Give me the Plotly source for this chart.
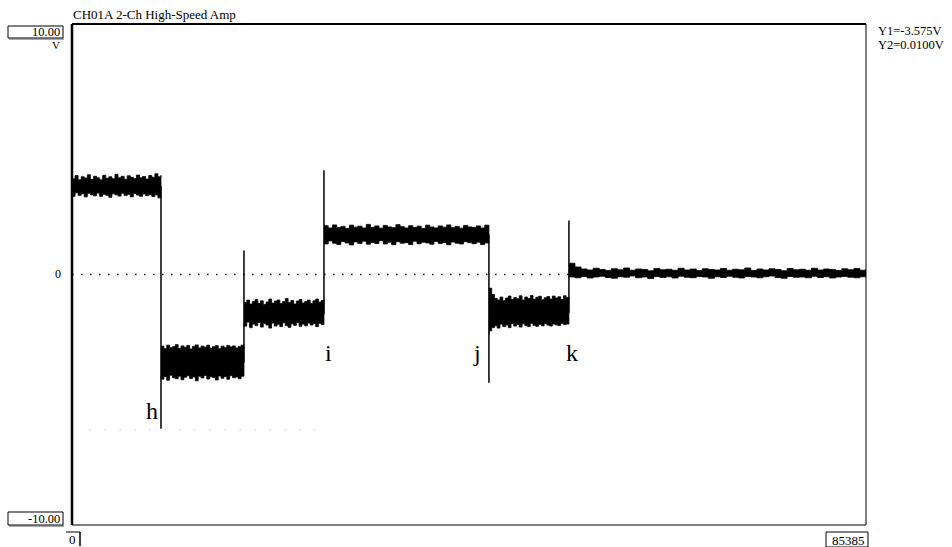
import numpy as np
import plotly.graph_objects as go

# ---- data ----
x_max = 85385
seg_start = [0, 9570, 18494, 27096, 44837, 53439]
seg_end = [9570, 18494, 27096, 44837, 53439, 85385]
seg_level = [3.50, -3.48, -1.56, 1.56, -1.50, 0.04]
# transient spike extremes at each transition
spike_x = [9570, 18494, 27096, 44837, 53439]
spike_y = [-6.16, 0.96, 4.16, -4.32, 2.16]

upper = [
    [3.82, 3.95, 3.78, 3.90, 3.85, 3.98, 3.80, 3.92, 3.86, 3.78, 3.96, 3.84, 3.90, 3.82, 4.00,
     3.86, 3.92, 3.80, 3.94, 3.88, 3.83, 3.97, 3.86, 3.91, 3.81, 3.95, 3.88, 4.02, 3.90, 3.96],
    [-2.86, -2.96, -2.82, -2.92, -2.88, -2.80, -2.95, -2.85, -2.90, -2.83, -2.97, -2.87, -2.81, -2.93, -2.86,
     -2.90, -2.82, -2.94, -2.88, -2.84, -2.96, -2.86, -2.91, -2.83, -2.89, -2.85, -2.93, -2.87, -2.82, -2.90],
    [-1.12, -1.02, -1.18, -1.08, -1.00, -1.15, -1.05, -1.20, -1.10, -0.98, -1.14, -1.06, -1.02, -1.16, -1.08,
     -0.96, -1.12, -1.04, -1.18, -1.06, -1.00, -1.14, -1.08, -1.02, -1.16, -1.05, -0.98, -1.10, -1.04, -1.02],
    [1.95, 1.86, 1.98, 1.88, 1.92, 1.84, 1.97, 1.89, 1.93, 1.86, 2.00, 1.88, 1.94, 1.85, 1.96, 1.90, 1.87, 1.99, 1.91, 1.86,
     1.95, 1.88, 1.93, 1.84, 1.97, 1.90, 1.86, 1.94, 1.89, 1.98, 1.87, 1.92, 1.85, 1.96, 1.90, 1.88, 1.94, 1.86, 1.97, 1.91],
    [-0.55, -0.80, -0.95, -1.02, -0.90, -1.05, -0.94, -0.86, -1.00, -0.92, -0.97, -0.85, -1.02, -0.90, -0.96,
     -0.84, -0.99, -0.91, -0.87, -1.01, -0.93, -0.88, -0.98, -0.86, -0.94, -0.89, -1.00, -0.85, -0.92, -0.88],
    [0.45, 0.30, 0.22, 0.18, 0.25, 0.20, 0.16, 0.23, 0.19, 0.26, 0.17, 0.22, 0.20, 0.15, 0.24, 0.19, 0.21, 0.17, 0.25, 0.18,
     0.22, 0.16, 0.23, 0.20, 0.18, 0.24, 0.17, 0.21, 0.19, 0.26, 0.16, 0.22, 0.18, 0.23, 0.20, 0.15, 0.24, 0.19, 0.21, 0.17,
     0.25, 0.18, 0.22, 0.20, 0.16, 0.23, 0.19, 0.24, 0.17, 0.21],
]
lower = [
    [3.20, 3.12, 3.26, 3.16, 3.22, 3.10, 3.24, 3.18, 3.14, 3.25, 3.12, 3.20, 3.16, 3.08, 3.22,
     3.18, 3.13, 3.24, 3.15, 3.20, 3.10, 3.23, 3.17, 3.12, 3.21, 3.15, 3.19, 3.11, 3.18, 3.06],
    [-4.05, -4.18, -4.08, -4.22, -4.02, -4.12, -4.16, -4.06, -4.20, -4.10, -4.04, -4.15, -4.09, -4.24, -4.06,
     -4.13, -4.03, -4.17, -4.08, -4.11, -4.21, -4.05, -4.14, -4.07, -4.18, -4.04, -4.12, -4.09, -4.16, -4.06],
    [-1.95, -2.06, -1.90, -2.12, -1.98, -2.04, -1.92, -2.10, -1.96, -2.02, -2.14, -1.94, -2.06, -1.99, -2.08,
     -1.93, -2.04, -2.11, -1.97, -2.03, -1.92, -2.07, -1.98, -2.05, -1.94, -2.02, -1.96, -2.08, -1.95, -2.00],
    [1.30, 1.22, 1.34, 1.25, 1.20, 1.32, 1.26, 1.18, 1.30, 1.24, 1.33, 1.21, 1.28, 1.24, 1.35, 1.22, 1.29, 1.19, 1.31, 1.25,
     1.27, 1.20, 1.33, 1.23, 1.29, 1.26, 1.21, 1.32, 1.24, 1.28, 1.19, 1.30, 1.25, 1.22, 1.31, 1.27, 1.23, 1.29, 1.20, 1.26],
    [-2.40, -2.25, -2.12, -2.05, -2.14, -1.98, -2.08, -2.02, -2.12, -1.96, -2.06, -2.00, -2.10, -1.97, -2.04,
     -2.08, -1.95, -2.03, -2.07, -1.99, -2.05, -1.96, -2.02, -2.06, -1.98, -2.01, -2.04, -1.95, -2.00, -1.98],
    [-0.05, -0.10, -0.13, -0.08, -0.14, -0.10, -0.07, -0.12, -0.15, -0.09, -0.11, -0.06, -0.13, -0.10, -0.16, -0.08, -0.12,
     -0.09, -0.14, -0.07, -0.11, -0.13, -0.08, -0.10, -0.15, -0.09, -0.12, -0.07, -0.11, -0.14, -0.08, -0.10, -0.13, -0.09,
     -0.06, -0.12, -0.15, -0.08, -0.11, -0.10, -0.13, -0.07, -0.12, -0.09, -0.14, -0.10, -0.08, -0.11, -0.13, -0.09],
]

label_text = ["h", "i", "j", "k"]
label_x = [8600, 27530, 43550, 53770]
label_y = [-5.44, -3.12, -3.12, -3.12]

title = "CH01A 2-Ch High-Speed Amp"
cursor_text = ["Y1=-3.575V", "Y2=0.0100V"]
y_top_label, y_bot_label, y_unit = "10.00", "-10.00", "V"
x_left_label, x_right_label = "0", "85385"

# ---- figure ----
W, H = 952, 547
L, R, T, B = 72, 86, 24, 22
pw, ph = W - L - R, H - T - B


def px(x):
    return (x - L) / pw


def py(y):
    return 1 - (y - T) / ph


SERIF = "Liberation Serif, Times New Roman, serif"
fig = go.Figure()

# noise bands
for s, e, up, lo in zip(seg_start, seg_end, upper, lower):
    xu = np.linspace(s, e, len(up))
    xl = np.linspace(s, e, len(lo))
    fig.add_trace(go.Scatter(
        x=np.concatenate([xu, xl[::-1]]), y=np.concatenate([up, lo[::-1]]),
        fill="toself", fillcolor="black", mode="lines",
        line=dict(color="black", width=0.8, shape="hv"), hoverinfo="skip", showlegend=False))

# step trace with transients
sx, sy = [], []
for i, (s, e, lv) in enumerate(zip(seg_start, seg_end, seg_level)):
    sx += [s, e]
    sy += [lv, lv]
    if i < len(spike_x):
        sx += [spike_x[i], spike_x[i]]
        sy += [spike_y[i], seg_level[i + 1]]
fig.add_trace(go.Scatter(x=sx, y=sy, mode="lines", line=dict(color="black", width=1.5),
                         hoverinfo="skip", showlegend=False))

# zero dotted line
fig.add_trace(go.Scatter(x=[0, x_max], y=[0, 0], mode="lines",
                         line=dict(color="black", width=1.5, dash="1.5px,7.5px"),
                         hoverinfo="skip", showlegend=False))
# faint scan dotted line
fig.add_trace(go.Scatter(x=[1900, 26500], y=[-6.2, -6.2], mode="lines",
                         line=dict(color="#b0b0b0", width=1, dash="1px,14px"),
                         hoverinfo="skip", showlegend=False))

for t, xx, yy in zip(label_text, label_x, label_y):
    fig.add_annotation(x=xx, y=yy, text=t, showarrow=False, xref="x", yref="y",
                       font=dict(family=SERIF, size=24, color="black"))

shapes = []
# frame
shapes.append(dict(type="line", xref="paper", yref="paper", x0=0, x1=1, y0=1, y1=1, line=dict(color="black", width=2)))
shapes.append(dict(type="line", xref="paper", yref="paper", x0=0, x1=0, y0=0, y1=1, line=dict(color="black", width=2.5)))
shapes.append(dict(type="line", xref="paper", yref="paper", x0=1, x1=1, y0=0, y1=1, line=dict(color="black", width=1)))
shapes.append(dict(type="line", xref="paper", yref="paper", x0=0, x1=1, y0=0, y1=0, line=dict(color="black", width=1)))
# y-range boxes
for (y0, y1) in [(26, 38), (512, 525)]:
    shapes.append(dict(type="rect", xref="paper", yref="paper", x0=px(8), x1=px(63), y0=py(y1), y1=py(y0),
                       line=dict(color="black", width=1)))
    shapes.append(dict(type="line", xref="paper", yref="paper", x0=px(9), x1=px(64), y0=py(y1 + 1), y1=py(y1 + 1),
                       line=dict(color="#555", width=1)))
# x-range boxes
shapes.append(dict(type="line", xref="paper", yref="paper", x0=px(66), x1=px(80), y0=py(532), y1=py(532), line=dict(color="black", width=1)))
shapes.append(dict(type="line", xref="paper", yref="paper", x0=px(80), x1=px(80), y0=py(532), y1=py(546), line=dict(color="black", width=1.5)))
shapes.append(dict(type="rect", xref="paper", yref="paper", x0=px(826), x1=px(868), y0=py(547), y1=py(532), line=dict(color="black", width=1)))

annots = [
    dict(text=title, x=px(71), y=py(15), xanchor="left", yanchor="middle", size=13),
    dict(text=y_top_label, x=px(62), y=py(32), xanchor="right", yanchor="middle", size=12.5),
    dict(text=y_unit, x=px(56), y=py(45), xanchor="center", yanchor="middle", size=11),
    dict(text="0", x=px(63), y=py(274), xanchor="right", yanchor="middle", size=12),
    dict(text=y_bot_label, x=px(62), y=py(518.5), xanchor="right", yanchor="middle", size=12.5),
    dict(text=x_left_label, x=px(67), y=py(539.5), xanchor="left", yanchor="middle", size=13),
    dict(text=x_right_label, x=px(867), y=py(540), xanchor="right", yanchor="middle", size=13),
    dict(text=cursor_text[0], x=px(876), y=py(31), xanchor="left", yanchor="middle", size=12.5),
    dict(text=cursor_text[1], x=px(876), y=py(45), xanchor="left", yanchor="middle", size=12.5),
]
for a in annots:
    fig.add_annotation(text=a["text"], x=a["x"], y=a["y"], xref="paper", yref="paper",
                       xanchor=a["xanchor"], yanchor=a["yanchor"], showarrow=False,
                       font=dict(family=SERIF, size=a["size"], color="black"))

fig.update_layout(
    width=W, height=H, margin=dict(l=L, r=R, t=T, b=B),
    paper_bgcolor="white", plot_bgcolor="white", shapes=shapes,
    xaxis=dict(range=[0, x_max], visible=False, fixedrange=True),
    yaxis=dict(range=[-10, 10], visible=False, fixedrange=True),
    showlegend=False,
)
fig.write_html("out.html", config={"displayModeBar": False},
               post_script="document.body.style.margin='0px';document.body.style.overflow='hidden';")
